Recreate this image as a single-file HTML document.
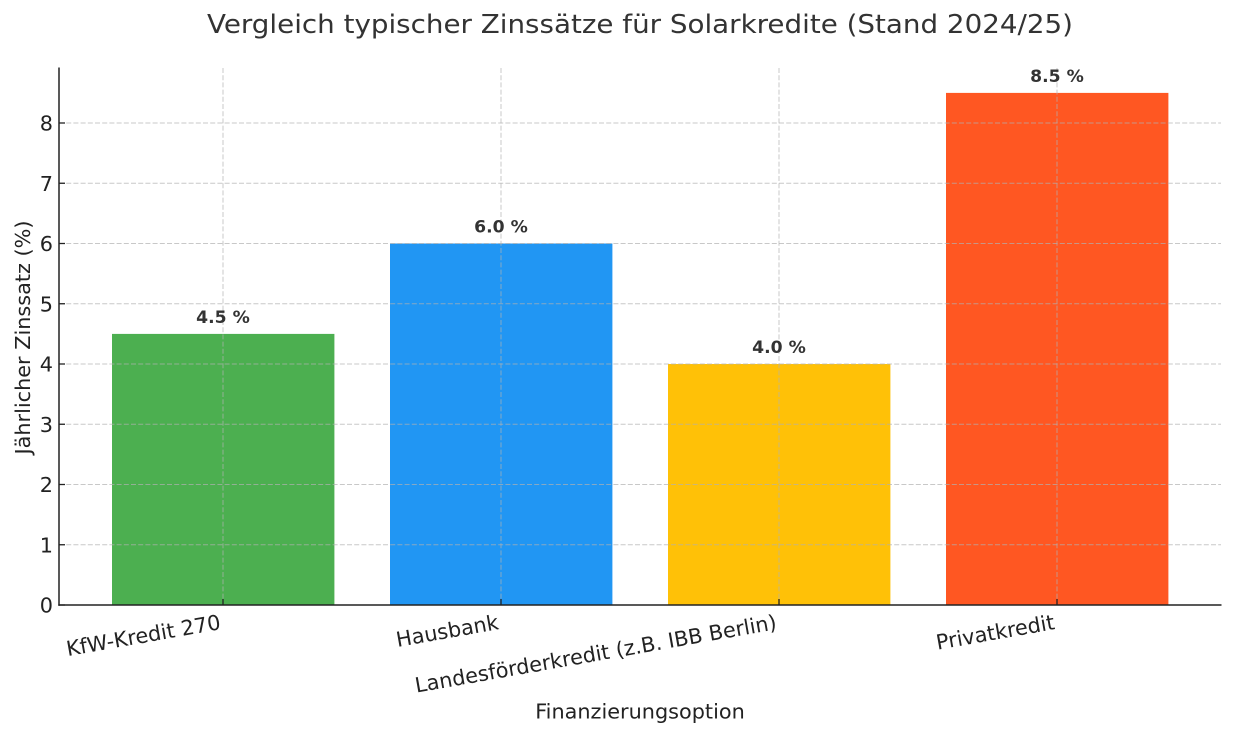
<!DOCTYPE html>
<html>
<head>
<meta charset="utf-8">
<style>
  html,body{margin:0;padding:0;background:#fff;}
  svg{display:block;}
  text{font-family:"DejaVu Sans","Liberation Sans",sans-serif;}
</style>
</head>
<body>
<svg width="1233" height="735" viewBox="0 0 1233 735" xmlns="http://www.w3.org/2000/svg">
  <rect width="1233" height="735" fill="#fff"/>

  <!-- Title -->
  <text x="640" y="33" font-size="26" fill="#333" text-anchor="middle" textLength="866" lengthAdjust="spacingAndGlyphs">Vergleich typischer Zinssätze für Solarkredite (Stand 2024/25)</text>

  <!-- Bars -->
  <rect x="112" y="333.9" width="222.4" height="271.1" fill="#4CAF50"/>
  <rect x="390" y="243.5" width="222.4" height="361.5" fill="#2196F3"/>
  <rect x="668" y="364" width="222.4" height="241" fill="#FFC107"/>
  <rect x="946" y="92.9" width="222.4" height="512.1" fill="#FF5722"/>

  <!-- Grid -->
  <g stroke="#b0b0b0" stroke-opacity="0.7" stroke-width="1" stroke-dasharray="5,2.2" fill="none">
    <line x1="59" y1="544.75" x2="1221" y2="544.75"/>
    <line x1="59" y1="484.5" x2="1221" y2="484.5"/>
    <line x1="59" y1="424.25" x2="1221" y2="424.25"/>
    <line x1="59" y1="364" x2="1221" y2="364"/>
    <line x1="59" y1="303.75" x2="1221" y2="303.75"/>
    <line x1="59" y1="243.5" x2="1221" y2="243.5"/>
    <line x1="59" y1="183.25" x2="1221" y2="183.25"/>
    <line x1="59" y1="123" x2="1221" y2="123"/>
    <line x1="223" y1="68" x2="223" y2="605"/>
    <line x1="501" y1="68" x2="501" y2="605"/>
    <line x1="779" y1="68" x2="779" y2="605"/>
    <line x1="1057" y1="68" x2="1057" y2="605"/>
  </g>

  <!-- Spines -->
  <line x1="59" y1="67.5" x2="59" y2="605.8" stroke="#222" stroke-width="1.5"/>
  <line x1="58.3" y1="605" x2="1221.5" y2="605" stroke="#222" stroke-width="1.5"/>

  <!-- Ticks (inward) -->
  <g stroke="#222" stroke-width="1.3">
    <line x1="59" y1="605" x2="65" y2="605"/>
    <line x1="59" y1="544.75" x2="65" y2="544.75"/>
    <line x1="59" y1="484.5" x2="65" y2="484.5"/>
    <line x1="59" y1="424.25" x2="65" y2="424.25"/>
    <line x1="59" y1="364" x2="65" y2="364"/>
    <line x1="59" y1="303.75" x2="65" y2="303.75"/>
    <line x1="59" y1="243.5" x2="65" y2="243.5"/>
    <line x1="59" y1="183.25" x2="65" y2="183.25"/>
    <line x1="59" y1="123" x2="65" y2="123"/>
    <line x1="223" y1="599" x2="223" y2="605"/>
    <line x1="501" y1="599" x2="501" y2="605"/>
    <line x1="779" y1="599" x2="779" y2="605"/>
    <line x1="1057" y1="599" x2="1057" y2="605"/>
  </g>

  <!-- Y tick labels -->
  <g font-size="20.8" fill="#222" text-anchor="end">
    <text x="53" y="612.5">0</text>
    <text x="53" y="552.3">1</text>
    <text x="53" y="492">2</text>
    <text x="53" y="431.8">3</text>
    <text x="53" y="371.5">4</text>
    <text x="53" y="311.3">5</text>
    <text x="53" y="251">6</text>
    <text x="53" y="190.8">7</text>
    <text x="53" y="130.5">8</text>
  </g>

  <!-- X tick labels, rotated 10deg -->
  <g font-size="20.8" fill="#222" text-anchor="end">
    <text transform="translate(221.5,629) rotate(-10)">KfW-Kredit 270</text>
    <text transform="translate(499.5,629) rotate(-10)">Hausbank</text>
    <text transform="translate(777.5,629) rotate(-10)">Landesförderkredit (z.B. IBB Berlin)</text>
    <text transform="translate(1055.5,629) rotate(-10)">Privatkredit</text>
  </g>

  <!-- Bar value labels -->
  <g font-size="17.2" font-weight="bold" fill="#333" text-anchor="middle">
    <text x="223" y="323">4.5 %</text>
    <text x="501" y="232.5">6.0 %</text>
    <text x="779" y="353">4.0 %</text>
    <text x="1057" y="82">8.5 %</text>
  </g>

  <!-- Axis labels -->
  <text x="640" y="718.5" font-size="20.8" fill="#222" text-anchor="middle">Finanzierungsoption</text>
  <text transform="translate(30,337.5) rotate(-90)" font-size="20.8" fill="#222" text-anchor="middle">Jährlicher Zinssatz (%)</text>
</svg>
</body>
</html>
